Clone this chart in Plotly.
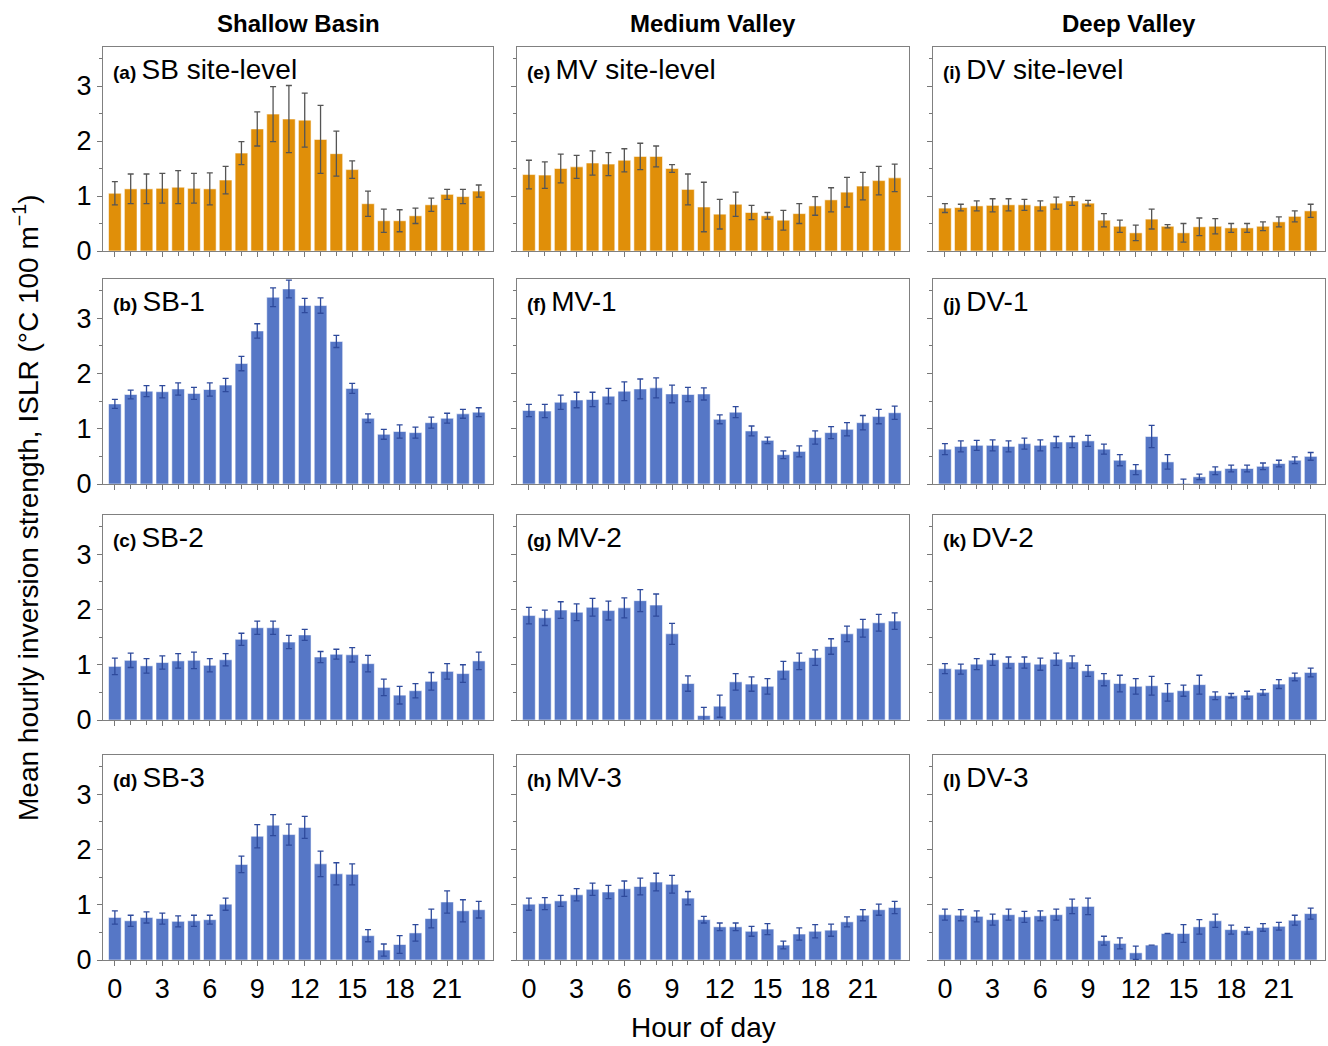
import plotly.graph_objects as go
from plotly.subplots import make_subplots

hours = list(range(24))
x_tickvals = [0, 3, 6, 9, 12, 15, 18, 21]
y_tickvals = [0, 1, 2, 3]
column_titles = ["Shallow Basin", "Medium Valley", "Deep Valley"]

# ---- Shallow Basin ----
sb_site = [1.05, 1.13, 1.13, 1.14, 1.16, 1.14, 1.13, 1.29, 1.78, 2.22, 2.49, 2.40,
           2.38, 2.03, 1.77, 1.48, 0.86, 0.55, 0.55, 0.64, 0.84, 1.03, 0.99, 1.09]
sb_site_err = [0.21, 0.27, 0.27, 0.27, 0.30, 0.27, 0.29, 0.25, 0.21, 0.31, 0.50, 0.61,
               0.49, 0.62, 0.41, 0.16, 0.23, 0.21, 0.20, 0.14, 0.12, 0.09, 0.13, 0.11]
sb_1 = [1.45, 1.62, 1.68, 1.67, 1.72, 1.64, 1.71, 1.79, 2.18, 2.77, 3.38, 3.53,
        3.23, 3.23, 2.58, 1.73, 1.19, 0.90, 0.95, 0.93, 1.11, 1.19, 1.27, 1.30]
sb_1_err = [0.08, 0.08, 0.10, 0.11, 0.11, 0.11, 0.12, 0.12, 0.13, 0.13, 0.17, 0.16,
            0.13, 0.14, 0.11, 0.09, 0.08, 0.09, 0.12, 0.10, 0.10, 0.09, 0.08, 0.08]
sb_2 = [0.97, 1.08, 0.98, 1.04, 1.07, 1.08, 0.99, 1.09, 1.46, 1.67, 1.67, 1.41,
        1.54, 1.14, 1.19, 1.18, 1.02, 0.59, 0.45, 0.53, 0.70, 0.88, 0.84, 1.07]
sb_2_err = [0.15, 0.13, 0.13, 0.12, 0.13, 0.15, 0.12, 0.11, 0.11, 0.12, 0.12, 0.12,
            0.10, 0.10, 0.09, 0.13, 0.15, 0.15, 0.16, 0.13, 0.16, 0.14, 0.16, 0.16]
sb_3 = [0.77, 0.71, 0.77, 0.75, 0.70, 0.71, 0.73, 1.01, 1.73, 2.24, 2.44, 2.27,
        2.40, 1.74, 1.56, 1.55, 0.44, 0.18, 0.28, 0.49, 0.75, 1.05, 0.89, 0.91]
sb_3_err = [0.12, 0.10, 0.10, 0.10, 0.10, 0.10, 0.08, 0.11, 0.15, 0.21, 0.19, 0.19,
            0.20, 0.23, 0.20, 0.19, 0.11, 0.11, 0.16, 0.15, 0.17, 0.20, 0.20, 0.15]

# ---- Medium Valley ----
mv_site = [1.39, 1.38, 1.50, 1.53, 1.60, 1.58, 1.65, 1.72, 1.72, 1.50, 1.12, 0.80,
           0.67, 0.85, 0.70, 0.64, 0.56, 0.68, 0.82, 0.93, 1.07, 1.18, 1.28, 1.33]
mv_site_err = [0.26, 0.24, 0.26, 0.21, 0.22, 0.21, 0.21, 0.24, 0.19, 0.07, 0.28, 0.45,
               0.27, 0.22, 0.13, 0.06, 0.18, 0.18, 0.17, 0.22, 0.27, 0.25, 0.26, 0.25]
mv_1 = [1.33, 1.32, 1.48, 1.52, 1.53, 1.59, 1.68, 1.72, 1.74, 1.63, 1.62, 1.63,
        1.17, 1.30, 0.96, 0.79, 0.53, 0.59, 0.84, 0.93, 0.99, 1.11, 1.22, 1.29]
mv_1_err = [0.11, 0.12, 0.13, 0.14, 0.13, 0.14, 0.17, 0.18, 0.18, 0.16, 0.13, 0.11,
            0.08, 0.10, 0.09, 0.06, 0.07, 0.10, 0.12, 0.11, 0.12, 0.13, 0.13, 0.12]
mv_2 = [1.89, 1.85, 1.99, 1.95, 2.04, 1.98, 2.03, 2.16, 2.08, 1.56, 0.66, 0.08,
        0.25, 0.69, 0.65, 0.61, 0.90, 1.06, 1.13, 1.33, 1.56, 1.66, 1.76, 1.79]
mv_2_err = [0.15, 0.14, 0.15, 0.15, 0.16, 0.17, 0.18, 0.20, 0.20, 0.19, 0.14, 0.15,
            0.20, 0.15, 0.13, 0.14, 0.16, 0.15, 0.14, 0.14, 0.14, 0.16, 0.15, 0.15]
mv_3 = [1.01, 1.02, 1.07, 1.18, 1.28, 1.23, 1.29, 1.33, 1.41, 1.37, 1.12, 0.73,
        0.60, 0.60, 0.52, 0.56, 0.27, 0.47, 0.52, 0.54, 0.69, 0.81, 0.91, 0.95]
mv_3_err = [0.11, 0.11, 0.10, 0.11, 0.11, 0.12, 0.14, 0.15, 0.16, 0.16, 0.12, 0.06,
            0.07, 0.07, 0.09, 0.10, 0.07, 0.11, 0.12, 0.11, 0.09, 0.10, 0.10, 0.11]

# ---- Deep Valley ----
dv_site = [0.78, 0.79, 0.82, 0.83, 0.84, 0.84, 0.82, 0.87, 0.91, 0.87, 0.56, 0.45,
           0.33, 0.58, 0.45, 0.33, 0.44, 0.45, 0.42, 0.42, 0.45, 0.53, 0.63, 0.73]
dv_site_err = [0.08, 0.06, 0.09, 0.12, 0.11, 0.10, 0.09, 0.11, 0.08, 0.05, 0.12, 0.11,
               0.14, 0.18, 0.03, 0.17, 0.16, 0.14, 0.08, 0.08, 0.08, 0.09, 0.10, 0.12]
dv_1 = [0.63, 0.68, 0.70, 0.70, 0.68, 0.73, 0.70, 0.76, 0.76, 0.78, 0.63, 0.43,
        0.26, 0.86, 0.40, 0.01, 0.13, 0.24, 0.28, 0.28, 0.32, 0.37, 0.43, 0.50]
dv_1_err = [0.10, 0.10, 0.09, 0.10, 0.10, 0.10, 0.10, 0.10, 0.10, 0.10, 0.09, 0.10,
            0.09, 0.20, 0.13, 0.08, 0.05, 0.07, 0.06, 0.06, 0.06, 0.06, 0.06, 0.07]
dv_2 = [0.93, 0.92, 1.01, 1.09, 1.04, 1.04, 1.01, 1.10, 1.05, 0.89, 0.73, 0.66,
        0.61, 0.62, 0.50, 0.53, 0.64, 0.44, 0.44, 0.45, 0.50, 0.65, 0.78, 0.86]
dv_2_err = [0.09, 0.09, 0.10, 0.10, 0.10, 0.10, 0.11, 0.11, 0.11, 0.10, 0.11, 0.15,
            0.14, 0.17, 0.16, 0.10, 0.17, 0.07, 0.04, 0.07, 0.05, 0.08, 0.07, 0.08]
dv_3 = [0.82, 0.81, 0.79, 0.73, 0.82, 0.78, 0.80, 0.82, 0.97, 0.97, 0.35, 0.30,
        0.13, 0.27, 0.48, 0.48, 0.60, 0.71, 0.55, 0.53, 0.59, 0.61, 0.72, 0.84]
dv_3_err = [0.10, 0.10, 0.10, 0.10, 0.10, 0.10, 0.09, 0.10, 0.13, 0.15, 0.08, 0.10,
            0.12, 0.00, 0.00, 0.16, 0.13, 0.12, 0.08, 0.06, 0.07, 0.07, 0.09, 0.10]

# panel order: rows x cols
panels = [
    [("(a)", "SB site-level", sb_site, sb_site_err, "site"),
     ("(e)", "MV site-level", mv_site, mv_site_err, "site"),
     ("(i)", "DV site-level", dv_site, dv_site_err, "site")],
    [("(b)", "SB-1", sb_1, sb_1_err, "plot"),
     ("(f)", "MV-1", mv_1, mv_1_err, "plot"),
     ("(j)", "DV-1", dv_1, dv_1_err, "plot")],
    [("(c)", "SB-2", sb_2, sb_2_err, "plot"),
     ("(g)", "MV-2", mv_2, mv_2_err, "plot"),
     ("(k)", "DV-2", dv_2, dv_2_err, "plot")],
    [("(d)", "SB-3", sb_3, sb_3_err, "plot"),
     ("(h)", "MV-3", mv_3, mv_3_err, "plot"),
     ("(l)", "DV-3", dv_3, dv_3_err, "plot")],
]

W, H = 1328, 1046
col_px = [(103, 493), (517, 909), (933, 1325)]
row_px = [(47, 251), (279, 484), (515, 720), (755, 960)]


def px_x(p):
    return p / W


def px_y(p):
    return 1 - p / H


ORANGE = "#E08F09"
BLUE = "#5677C6"
FONT = "Liberation Sans, Arial, Helvetica, sans-serif"

fig = make_subplots(rows=4, cols=3)

for r in range(4):
    for c in range(3):
        lab, name, vals, errs, kind = panels[r][c]
        color = ORANGE if kind == "site" else BLUE
        ecolor = "#555555" if kind == "site" else "#2E4A9C"
        fig.add_trace(go.Bar(
            x=hours, y=vals, width=0.8,
            marker=dict(color=color, line=dict(color="rgba(255,255,255,0.55)", width=1)),
            error_y=dict(type="data", array=errs, visible=True, color=ecolor,
                         thickness=1.3, width=3),
            showlegend=False, hoverinfo="skip",
        ), row=r + 1, col=c + 1)
        idx = r * 3 + c + 1
        xa = "xaxis" if idx == 1 else f"xaxis{idx}"
        ya = "yaxis" if idx == 1 else f"yaxis{idx}"
        x0, x1 = col_px[c]
        y0, y1 = row_px[r]
        fig.layout[xa].update(
            domain=[px_x(x0), px_x(x1)], range=[-0.75, 23.9], automargin=False,
            tickmode="array", tickvals=x_tickvals,
            showticklabels=(r == 3),
            ticks="outside", ticklen=5, tickcolor="#777777", tickwidth=1,
            minor=dict(dtick=1, tick0=0, ticks="outside", ticklen=4, tickcolor="#777777"),
            showgrid=False, zeroline=False,
            showline=True, linecolor="#808080", linewidth=1, mirror=True,
            tickfont=dict(size=27, color="black", family=FONT),
        )
        fig.layout[ya].update(
            domain=[px_y(y1), px_y(y0)], range=[0, 3.71], automargin=False,
            tickmode="array", tickvals=y_tickvals,
            showticklabels=(c == 0),
            ticks="outside", ticklen=5, tickcolor="#777777", tickwidth=1,
            minor=dict(dtick=0.5, tick0=0, ticks="outside", ticklen=3, tickcolor="#777777"),
            showgrid=False, zeroline=False,
            showline=True, linecolor="#808080", linewidth=1, mirror=True,
            tickfont=dict(size=27, color="black", family=FONT),
        )
        xref = "x domain" if idx == 1 else f"x{idx} domain"
        yref = "y domain" if idx == 1 else f"y{idx} domain"
        fig.add_annotation(
            x=0.02, y=0.975, xref=xref, yref=yref, xanchor="left", yanchor="top",
            text=f"<b>{lab}</b> <span style='font-size:28px'>{name}</span>",
            showarrow=False, font=dict(size=19, color="black", family=FONT),
        )

# column titles
for c, title in enumerate(column_titles):
    x0, x1 = col_px[c]
    fig.add_annotation(
        x=px_x((x0 + x1) / 2), y=px_y(23), xref="paper", yref="paper",
        text=f"<b>{title}</b>", showarrow=False,
        font=dict(size=24, color="black", family=FONT),
        xanchor="center", yanchor="middle",
    )

fig.add_annotation(
    x=px_x(703), y=px_y(1045), xref="paper", yref="paper",
    text="Hour of day", showarrow=False, xanchor="center", yanchor="bottom",
    font=dict(size=28, color="black", family=FONT),
)
fig.add_annotation(
    x=px_x(26), y=px_y(508), xref="paper", yref="paper",
    text="Mean hourly inversion strength, ISLR (°C 100 m<sup>−1</sup>)",
    textangle=-90, showarrow=False, xanchor="center", yanchor="middle",
    font=dict(size=28, color="black", family=FONT),
)

fig.update_layout(
    width=W, height=H, margin=dict(l=0, r=0, t=0, b=0, autoexpand=False),
    paper_bgcolor="white", plot_bgcolor="white",
    bargap=0.2, font=dict(family=FONT),
)

fig.write_html(
    "out.html",
    config={"displayModeBar": False},
    post_script="document.body.style.margin='0px';document.body.style.overflow='hidden';",
)
